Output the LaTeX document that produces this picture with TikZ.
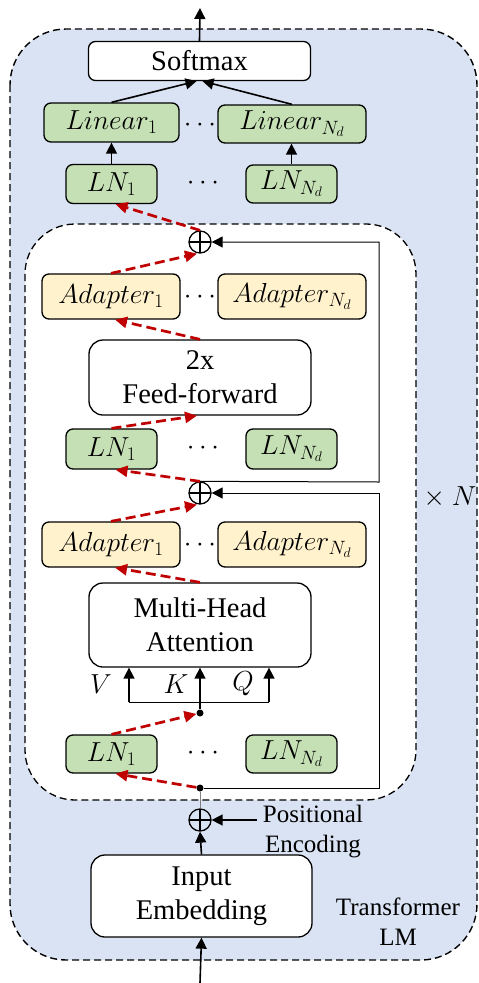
\RequirePackage{fix-cm}
\documentclass[tikz,border=0pt]{standalone}
\usepackage{fontspec}
\setmainfont{Liberation Serif}
\usetikzlibrary{arrows.meta,calc}

\definecolor{lmblue}{RGB}{218,227,243}
\definecolor{lngreen}{RGB}{197,224,180}
\definecolor{adyellow}{RGB}{255,242,204}
\definecolor{flowred}{RGB}{192,0,0}

\newcommand\boxfont{\fontsize{28.5}{34}\selectfont}
\newcommand\mathfontsz{\fontsize{27.5}{30}\selectfont}
\newcommand\sidefont{\fontsize{25}{30}\selectfont}

\begin{document}
\begin{tikzpicture}[x=1pt,y=-1pt,
  block/.style={draw, line width=1.3pt, rounded corners=7pt, inner sep=0pt, align=center, font=\boxfont, fill=white},
  bigblock/.style={block, rounded corners=14pt},
  lnbox/.style={block, fill=lngreen, font=\mathfontsz},
  adbox/.style={block, fill=adyellow, font=\mathfontsz},
  sumnode/.style={circle, draw, line width=1.3pt, minimum size=22pt, inner sep=0pt,
    path picture={\draw[line width=1.3pt] (path picture bounding box.north) -- (path picture bounding box.south)
      (path picture bounding box.west) -- (path picture bounding box.east);}},
  junction/.style={circle, fill=black, minimum size=7pt, inner sep=0pt},
  arr/.style={line width=1.6pt, -{Triangle[length=11pt,width=11pt]}},
  thinarr/.style={line width=1pt, -{Triangle[length=11pt,width=11pt]}},
  flow/.style={draw=flowred, line width=2.7pt, dash pattern=on 10pt off 5pt,
    -{Triangle[length=12pt,width=11pt,fill=flowred]}},
  dots/.style={font=\mathfontsz, inner sep=0pt}
]
\useasboundingbox (0,0) rectangle (479,983);

% outer Transformer LM frame and inner repeated layer
\draw[fill=lmblue, line width=1.4pt, dash pattern=on 7pt off 4pt, rounded corners=56pt]
  (10,29) rectangle (477,960);
\draw[fill=white, line width=1.3pt, dash pattern=on 7pt off 4pt, rounded corners=50pt]
  (25,224) rectangle (416,800);

% output head
\node[block, minimum width=222pt, minimum height=39pt] (soft) at (199.5,61) {Softmax};
\node[lnbox, minimum width=135pt, minimum height=39pt] (lin1) at (111.5,122.5) {$Linear_1$};
\node[lnbox, minimum width=148pt, minimum height=38pt] (linN) at (292,124) {$Linear_{N_d}$};
\node[dots] (dlin) at (200,125) {$\cdots$};
\node[lnbox, minimum width=91pt, minimum height=39pt] (lnA1) at (111.5,184) {$LN_1$};
\node[lnbox, minimum width=91pt, minimum height=38pt] (lnAN) at (291.5,184) {$LN_{N_d}$};
\node[dots] (dlnA) at (203,183) {$\cdots$};

% feed-forward sub-layer
\node[sumnode] (p1) at (200,242) {};
\node[adbox, minimum width=138pt, minimum height=45pt] (adB1) at (111,296.5) {$Adapter_1$};
\node[adbox, minimum width=148pt, minimum height=45pt] (adBN) at (292,296.5) {$Adapter_{N_d}$};
\node[dots] (dadB) at (200,297) {$\cdots$};
\node[bigblock, minimum width=222pt, minimum height=75pt] (ff) at (200,377.5) {2x\\Feed-forward};
\node[lnbox, minimum width=91pt, minimum height=40pt] (lnB1) at (111.5,449) {$LN_1$};
\node[lnbox, minimum width=91pt, minimum height=40pt] (lnBN) at (291.5,449) {$LN_{N_d}$};
\node[dots] (dlnB) at (203,448) {$\cdots$};

% attention sub-layer
\node[sumnode] (p2) at (200,493) {};
\node[adbox, minimum width=138pt, minimum height=45pt] (adC1) at (111,544.5) {$Adapter_1$};
\node[adbox, minimum width=148pt, minimum height=45pt] (adCN) at (292,544.5) {$Adapter_{N_d}$};
\node[dots] (dadC) at (200,545) {$\cdots$};
\node[bigblock, minimum width=222pt, minimum height=84pt] (mha) at (200,625) {Multi-Head\\Attention};
\node[junction] (jk) at (200,713) {};
\node[lnbox, minimum width=91pt, minimum height=38pt] (lnC1) at (111.5,754) {$LN_1$};
\node[lnbox, minimum width=91pt, minimum height=38pt] (lnCN) at (291.5,754) {$LN_{N_d}$};
\node[dots] (dlnC) at (203,753) {$\cdots$};
\node[junction] (jb) at (200,788) {};

% input side
\node[sumnode] (p3) at (200,820) {};
\node[bigblock, minimum width=221pt, minimum height=82pt] (emb) at (201.5,896) {Input\\Embedding};
\node[font=\sidefont, align=center, inner sep=0pt] (pos) at (313,832) {Positional\\Encoding};
\node[font=\sidefont, align=center, inner sep=0pt] (tlm) at (398,922) {Transformer\\LM};
\node[font=\mathfontsz, inner sep=0pt] (times) at (450,497) {$\times$ $N$};

% V K Q labels
\node[font=\mathfontsz, inner sep=0pt] (lv) at (101,684) {$V$};
\node[font=\mathfontsz, inner sep=0pt] (lk) at (176,684) {$K$};
\node[font=\mathfontsz, inner sep=0pt] (lq) at (243,684) {$Q$};

\coordinate (top) at (200,8);
\coordinate (bottom) at (200,983);
\coordinate (vb) at (129,702);
\coordinate (qb) at (269,702);
\coordinate (r1) at (379,482);
\coordinate (r2) at (379,788);

% solid connectors
\draw[arr] (soft.north) -- (top);
\draw[arr] (lin1.north) -- ([xshift=-3pt]soft.south);
\draw[arr] (linN.north) -- ([xshift=3pt]soft.south);
\draw[arr] (lnA1.north) -- (lin1.south);
\draw[arr] (lnAN.north) -- (linN.south -| lnAN.north);
\draw[arr] (bottom) -- (emb.south);
\draw[arr] (emb.north) -- (p3.south);
\draw[arr] ([xshift=-6pt]pos.west |- p3.east) -- (p3.east);
\draw[line width=0.8pt, gray] (p3.north) -- (jb);

% V K Q inputs
\draw[line width=1pt] (vb) -- (qb);
\draw[arr] (jk) -- (mha.south);
\draw[arr] (vb) -- (vb |- mha.south);
\draw[arr] (qb) -- (qb |- mha.south);

% residual connections
\draw[thinarr] (p2.north) -- (r1) -- (r1 |- p1.east) -- (p1.east);
\draw[thinarr] (jb) -- (r2) -- (r2 |- p2.east) -- (p2.east);

% adapter data flow
\draw[flow] (p1.north) -- ([xshift=4pt]lnA1.south);
\draw[flow] (adB1.north) -- ([xshift=-3pt]p1.south);
\draw[flow] (ff.north) -- ([xshift=4pt]adB1.south);
\draw[flow] (lnB1.north) -- ([xshift=-3pt]ff.south);
\draw[flow] (p2.north) -- ([xshift=4pt]lnB1.south);
\draw[flow] (adC1.north) -- ([xshift=-3pt]p2.south);
\draw[flow] (mha.north) -- ([xshift=4pt]adC1.south);
\draw[flow] (lnC1.north) -- (jk);
\draw[flow] (jb) -- ([xshift=4pt]lnC1.south);
\end{tikzpicture}
\end{document}
